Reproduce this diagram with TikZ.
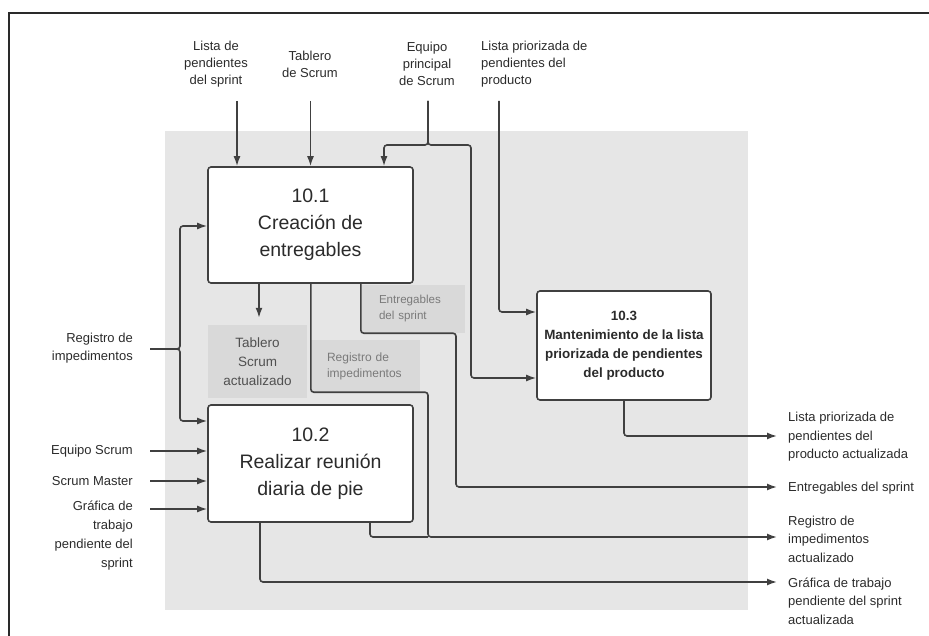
\documentclass[tikz,border=0pt]{standalone}
\usepackage{fontspec}
\setmainfont{Liberation Sans}
\usetikzlibrary{arrows.meta,calc}

\definecolor{ink}{HTML}{404040}
\definecolor{frame}{HTML}{2A2A2A}
\definecolor{panel}{HTML}{E6E6E6}
\definecolor{tag}{HTML}{D9D9D9}
\definecolor{tagdark}{HTML}{505050}
\definecolor{taglight}{HTML}{7A7A7A}
\definecolor{txt}{HTML}{2B2B2B}

\tikzset{
  wire/.style={draw=ink, line width=1.6pt, rounded corners=3pt},
  arr/.style={wire, -{Latex[length=10pt,width=7pt]}},
  proc/.style={draw=ink, line width=1.6pt, fill=white, rounded corners=3pt,
               align=center, inner sep=0pt, text=txt},
  toplbl/.style={inner sep=0pt, text=txt, font=\fontsize{13}{17}\selectfont},
  sidelbl/.style={inner sep=0pt, text=txt, font=\fontsize{13}{18.5}\selectfont},
  tagbox/.style={fill=tag, inner sep=0pt}
}

\begin{document}
\begin{tikzpicture}[x=1pt,y=-1pt]
\useasboundingbox (0,0) rectangle (929,636);

% outer frame and shaded process area
\draw[frame, line width=2.5pt, line join=miter] (9,640) -- (9,13) -- (935,13);
\fill[panel] (165,131) rectangle (748,610);

% output tags inside the shaded area
\node[tagbox, minimum width=99pt, minimum height=73pt, align=center, text=tagdark,
      font=\fontsize{13.5}{19}\selectfont] (gTab) at (257.5,361.5) {Tablero\\Scrum\\actualizado};
\node[tagbox, minimum height=52pt, text width=77pt, inner xsep=16pt, align=left, text=taglight,
      font=\fontsize{12}{16}\selectfont] (gReg) at (365.5,366) {Registro de\\impedimentos};
\node[tagbox, minimum height=48pt, text width=68pt, inner xsep=18pt, align=left, text=taglight,
      font=\fontsize{11.6}{16}\selectfont] (gEnt) at (413,309) {Entregables\\del sprint};

% processes
\node[proc, minimum width=205pt, minimum height=116pt, font=\fontsize{19.5}{27}\selectfont]
  (b1) at (310.5,225) {10.1\\Creación de\\entregables};
\node[proc, minimum width=205pt, minimum height=117pt, font=\fontsize{19.5}{27}\selectfont]
  (b2) at (310.5,463.5) {10.2\\Realizar reunión\\diaria de pie};
\node[proc, minimum width=174pt, minimum height=109pt, font=\bfseries\fontsize{13.4}{19}\selectfont]
  (b3) at (624,345.5) {10.3\\Mantenimiento de la lista\\priorizada de pendientes\\del producto};

% inputs from above
\node[toplbl, align=center] (tSpr) at (216,64) {Lista de\\pendientes\\del sprint};
\node[toplbl, align=center] (tTab) at (310,64.5) {Tablero\\de Scrum};
\node[toplbl, align=center] (tTeam) at (427,64) {Equipo\\principal\\de Scrum};
\node[toplbl, align=left, anchor=west] (tPbl) at (481,64) {Lista priorizada de\\pendientes del\\producto};

% inputs from the left
\node[sidelbl, align=right, anchor=east] (lReg) at (133,348) {Registro de\\impedimentos};
\node[sidelbl, align=right, anchor=east] (lEqp) at (133,451) {Equipo Scrum};
\node[sidelbl, align=right, anchor=east] (lSm) at (133,481) {Scrum Master};
\node[sidelbl, align=right, anchor=east, font=\fontsize{13}{19}\selectfont] (lGra) at (133,536)
  {Gráfica de\\trabajo\\pendiente del\\sprint};

% outputs to the right
\node[sidelbl, align=left, anchor=west] (rLst) at (788,437) {Lista priorizada de\\pendientes del\\producto actualizada};
\node[sidelbl, align=left, anchor=west] (rEnt) at (788,488) {Entregables del sprint};
\node[sidelbl, align=left, anchor=west] (rReg) at (788,539) {Registro de\\impedimentos\\actualizado};
\node[sidelbl, align=left, anchor=west] (rGra) at (788,601) {Gráfica de trabajo\\pendiente del sprint\\actualizada};

% connector ends and bends
\coordinate (iSpr) at (237,101);
\coordinate (iTab) at (310.5,101);
\coordinate (iTeam) at (428,101);
\coordinate (iPbl) at (499,101);
\coordinate (eqL) at (384,145);
\coordinate (eqR) at (471,145);
\coordinate (iReg) at (150,349);
\coordinate (regTop) at (180,226);
\coordinate (regBot) at (180,421);
\coordinate (iEqp) at (150,451);
\coordinate (iSm) at (150,481);
\coordinate (iGra) at (150,509);
\coordinate (jReg) at (428,537);
\coordinate (jEnt) at (456,487);
\coordinate (oLst) at (777,436);
\coordinate (oEnt) at (777,487);
\coordinate (oReg) at (777,537);
\coordinate (oGra) at (777,582);

% inputs to 10.1 and 10.3
\draw[arr] (iSpr) -- (iSpr |- b1.north);
\draw[arr] (iTab) -- (iTab |- b1.north);
\draw[arr] (iTeam) |- (eqL) -- (eqL |- b1.north);
\draw[arr] (iTeam) |- (eqR) |- (b3.west |- 0,378);
\draw[arr] (iPbl) |- (b3.west |- 0,312);

% inputs to 10.1 and 10.2 from the left
\draw[arr] (iReg) -| (regTop) -- (b1.west |- regTop);
\draw[arr] (iReg) -| (regBot) -- (b2.west |- regBot);
\draw[arr] (iEqp) -- (b2.west |- iEqp);
\draw[arr] (iSm) -- (b2.west |- iSm);
\draw[arr] (iGra) -- (b2.west |- iGra);

% outputs
\draw[arr] (b1.south -| 259,0) -- ($(gTab.north)+(1.5,-7)$);
\draw[arr] (b1.south -| gReg.west) -- (gReg.south west) -| (jReg) -- (oReg);
\draw[wire] (b2.south -| 370,0) |- (jReg);
\draw[arr] (b1.south -| gEnt.west) -- (gEnt.south west) -| (jEnt) -- (oEnt);
\draw[arr] (b3.south -| 624,0) |- (oLst);
\draw[arr] (b2.south -| 260,0) |- (oGra);
\end{tikzpicture}
\end{document}
